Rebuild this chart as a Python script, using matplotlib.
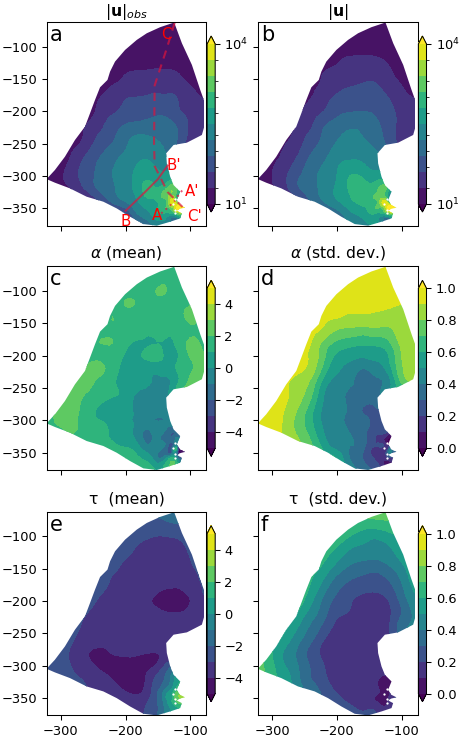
import numpy as np
import matplotlib
matplotlib.use('Agg')
import matplotlib.pyplot as plt
from matplotlib.patches import Polygon
from matplotlib.colors import LogNorm
from matplotlib.tri import Triangulation, UniformTriRefiner
from matplotlib.ticker import LogLocator, NullFormatter

W, H = 460, 736
DPI = 94

grid_x = [-320, -300, -280, -260, -240, -220, -200, -180, -160, -140, -120, -100, -80]
grid_y = [-60, -80, -100, -120, -140, -160, -180, -200, -220, -240, -260, -280, -300, -320, -340, -360, -380]

outline_x = [-124.8, -146.5, -167.2, -182.7, -200.8, -216.3, -224, -228, -239.5, -247.3, -255, -262.8,
             -278.3, -293.8, -309.3, -322.2, -309.3, -286, -260.2, -234.4, -213.7, -193, -172.4, -151.7,
             -131, -115.5, -113, -120.7, -116, -108, -116, -120.7, -115.5, -125.8, -131, -136.2, -137.2,
             -125.8, -105.2, -82, -78.3, -75.2, -84.5, -97.4, -112.9]
outline_y = [-62.8, -70, -79.4, -89.7, -105.2, -123.2, -138.7, -151.6, -163, -182.6, -203.2, -223.8,
             -244.5, -270.3, -290.9, -304.9, -310.5, -319.3, -332.2, -339.9, -350.3, -363.2, -374.5, -377,
             -370.9, -365.7, -358, -353.9, -351, -349, -345, -337.4, -324.5, -314.1, -301.2, -280.6, -265.1,
             -252.2, -248.6, -236.7, -223.8, -192.9, -167.1, -128.4, -94.8]

detail_x = [-137, -131, -127, -124, -128, -135, -145, -118, -114, -110, -122, -127]
detail_y = [-328, -332, -335, -341, -349, -349, -350, -347, -349, -349, -345, -355]

gap_x = [-123, -127, -123, -123]
gap_y = [-336, -343.5, -352, -358]

# log10 of observed speed
log_obs = [
 [1.05, 1.05, 1.05, 1.05, 1.05, 1.05, 1.05, 1.05, 1.05, 1.05, 1.05, 1.05, 1.05],
 [1.05, 1.05, 1.05, 1.05, 1.05, 1.05, 1.05, 1.05, 1.05, 1.05, 1.05, 1.05, 1.05],
 [1.05, 1.05, 1.05, 1.05, 1.05, 1.05, 1.08, 1.08, 1.08, 1.08, 1.08, 1.05, 1.05],
 [1.05, 1.05, 1.05, 1.05, 1.08, 1.08, 1.1, 1.15, 1.15, 1.15, 1.1, 1.08, 1.05],
 [1.05, 1.05, 1.05, 1.05, 1.1, 1.15, 1.28, 1.32, 1.35, 1.35, 1.3, 1.15, 1.1],
 [1.05, 1.05, 1.05, 1.05, 1.15, 1.3, 1.4, 1.45, 1.5, 1.5, 1.45, 1.3, 1.2],
 [1.05, 1.05, 1.05, 1.1, 1.3, 1.45, 1.58, 1.62, 1.65, 1.65, 1.6, 1.4, 1.3],
 [1.05, 1.05, 1.05, 1.1, 1.4, 1.55, 1.7, 1.78, 1.8, 1.82, 1.65, 1.5, 1.35],
 [1.05, 1.05, 1.05, 1.3, 1.5, 1.75, 1.9, 1.95, 2.0, 2.0, 1.85, 1.55, 1.45],
 [1.05, 1.05, 1.1, 1.4, 1.65, 1.85, 2.1, 2.25, 2.2, 2.1, 1.9, 1.5, 1.4],
 [1.05, 1.05, 1.3, 1.55, 1.8, 2.0, 2.2, 2.4, 2.4, 2.2, 1.9, 1.5, 1.4],
 [1.05, 1.15, 1.45, 1.7, 1.95, 2.15, 2.35, 2.5, 2.5, 2.3, 2.0, 1.8, 1.5],
 [1.05, 1.25, 1.5, 1.75, 2.0, 2.2, 2.4, 2.6, 2.7, 2.6, 2.4, 2.0, 1.8],
 [1.05, 1.2, 1.35, 1.65, 1.95, 2.15, 2.4, 2.65, 2.9, 3.0, 3.1, 2.6, 2.2],
 [1.05, 1.1, 1.2, 1.3, 1.6, 1.95, 2.2, 2.5, 2.7, 2.9, 3.2, 3.0, 2.4],
 [1.05, 1.05, 1.1, 1.2, 1.3, 1.4, 1.6, 2.2, 2.5, 2.7, 2.8, 2.6, 2.2],
 [1.05, 1.05, 1.05, 1.1, 1.2, 1.3, 1.4, 1.6, 2.1, 2.4, 2.5, 2.4, 2.0],
]
log_obs_detail = [3.3, 3.45, 3.7, 3.8, 3.35, 3.1, 2.95, 4.1, 4.2, 3.9, 3.8, 3.1]

# log10 of modelled speed
log_mod = [
 [1.05, 1.05, 1.05, 1.05, 1.05, 1.05, 1.05, 1.05, 1.05, 1.05, 1.05, 1.05, 1.05],
 [1.05, 1.05, 1.05, 1.05, 1.05, 1.05, 1.08, 1.08, 1.08, 1.08, 1.08, 1.08, 1.05],
 [1.05, 1.05, 1.05, 1.05, 1.05, 1.08, 1.15, 1.2, 1.2, 1.2, 1.15, 1.08, 1.05],
 [1.05, 1.05, 1.05, 1.05, 1.08, 1.1, 1.25, 1.33, 1.35, 1.33, 1.25, 1.1, 1.08],
 [1.05, 1.05, 1.05, 1.05, 1.08, 1.3, 1.38, 1.45, 1.5, 1.48, 1.35, 1.2, 1.15],
 [1.05, 1.05, 1.05, 1.08, 1.2, 1.38, 1.5, 1.58, 1.62, 1.62, 1.45, 1.3, 1.2],
 [1.05, 1.05, 1.08, 1.15, 1.3, 1.5, 1.65, 1.72, 1.75, 1.72, 1.6, 1.4, 1.3],
 [1.05, 1.05, 1.1, 1.25, 1.45, 1.6, 1.8, 1.88, 1.9, 1.85, 1.7, 1.5, 1.4],
 [1.05, 1.05, 1.1, 1.35, 1.55, 1.85, 2.0, 2.1, 2.1, 1.95, 1.75, 1.5, 1.4],
 [1.05, 1.05, 1.2, 1.45, 1.7, 1.95, 2.15, 2.3, 2.2, 2.05, 1.75, 1.5, 1.4],
 [1.05, 1.1, 1.35, 1.55, 1.85, 2.05, 2.3, 2.4, 2.35, 2.2, 1.9, 1.6, 1.4],
 [1.05, 1.25, 1.45, 1.7, 2.0, 2.2, 2.45, 2.55, 2.5, 2.35, 2.1, 1.8, 1.5],
 [1.1, 1.3, 1.55, 1.85, 2.1, 2.3, 2.5, 2.8, 2.75, 2.65, 2.4, 2.0, 1.8],
 [1.1, 1.25, 1.5, 1.85, 2.1, 2.3, 2.55, 2.85, 3.0, 3.0, 2.9, 2.6, 2.2],
 [1.05, 1.1, 1.3, 1.5, 1.9, 2.2, 2.45, 2.7, 2.9, 3.0, 3.1, 3.0, 2.4],
 [1.05, 1.05, 1.2, 1.4, 1.6, 1.8, 2.0, 2.4, 2.6, 2.75, 2.8, 2.6, 2.2],
 [1.05, 1.05, 1.1, 1.3, 1.5, 1.7, 1.8, 2.1, 2.3, 2.5, 2.5, 2.4, 2.0],
]
log_mod_detail = [3.15, 3.3, 3.45, 3.8, 3.3, 3.1, 2.95, 4.1, 4.2, 3.9, 3.9, 3.1]

alpha_mean = [
 [1.5, 1.5, 1.5, 1.5, 1.5, 1.5, 1.5, 1.5, 1.5, 1.5, 1.5, 1.5, 1.5],
 [1.5, 1.5, 1.5, 1.5, 1.5, 1.5, 1.5, 1.6, 1.6, 1.8, 1.6, 1.6, 1.5],
 [1.5, 1.5, 1.5, 1.5, 1.5, 1.5, 1.6, 1.7, 1.9, 2.05, 1.7, 1.6, 1.5],
 [1.5, 1.5, 1.5, 1.5, 1.5, 1.5, 2.05, 1.9, 1.7, 1.7, 1.6, 1.9, 1.6],
 [1.5, 1.5, 1.5, 1.5, 1.6, 2.0, 1.6, 1.5, 1.5, 1.5, 1.5, 2.3, 1.5],
 [1.5, 1.5, 1.5, 1.5, 1.5, 1.8, 1.6, 1.4, 1.4, 1.4, 1.0, 1.8, 1.5],
 [1.5, 1.5, 1.5, 1.5, 2.0, 2.0, 1.3, 0.9, 0.9, 0.9, 1.2, 2.2, 1.8],
 [1.5, 1.5, 1.5, 1.7, 1.7, 1.5, 0.9, 0.8, 1.4, 0.9, 0.9, 2.1, 2.1],
 [1.5, 1.5, 1.6, 2.1, 2.3, 1.4, 0.7, 0.5, 0.3, 0.5, 1.1, 1.8, 2.6],
 [1.5, 1.6, 2.0, 2.4, 1.7, 1.1, 0.6, 0.4, 0.0, -0.3, 0.8, 2.2, 2.4],
 [1.6, 1.9, 2.3, 1.9, 1.4, 1.1, 0.7, -0.2, -0.5, -0.5, 1.5, 2.0, 2.0],
 [1.6, 2.2, 2.3, 1.5, 0.9, 0.6, 0.4, -0.4, -0.5, -0.4, 1.0, 1.5, 1.5],
 [1.7, 2.3, 2.2, 1.4, 1.0, 0.7, 0.1, -0.2, -0.9, -1.0, 0.5, 1.0, 1.0],
 [1.7, 1.7, 2.0, 1.3, 1.1, 0.9, 0.4, -0.6, -1.0, -1.1, -1.6, 0.0, 0.5],
 [1.7, 1.6, 1.5, 1.4, 1.3, 1.2, 0.9, 0.1, -0.7, -1.0, -1.5, 0.0, 0.0],
 [1.7, 1.6, 1.6, 1.6, 1.7, 2.0, 2.0, 1.2, 0.2, -0.3, -0.2, 0.0, 0.0],
 [1.7, 1.7, 1.7, 1.7, 1.8, 2.0, 2.0, 2.0, 1.5, 1.0, 0.5, 0.0, 0.0],
]
alpha_mean_detail = [-1.6, -1.8, -2.0, -0.5, -1.4, -2.2, -1.3, -4.5, -4.6, -4.5, 1.5, 0.4]

alpha_std = [
 [0.95, 0.95, 0.95, 0.95, 0.95, 0.95, 0.95, 0.95, 0.95, 0.95, 0.95, 0.95, 0.95],
 [0.95, 0.95, 0.95, 0.95, 0.95, 0.95, 0.95, 0.95, 0.95, 0.95, 0.95, 0.95, 0.95],
 [0.95, 0.95, 0.95, 0.95, 0.95, 0.95, 0.95, 0.96, 0.98, 0.95, 0.95, 0.92, 0.9],
 [0.95, 0.95, 0.95, 0.95, 0.95, 0.95, 0.95, 0.95, 0.95, 0.94, 0.92, 0.9, 0.88],
 [0.95, 0.95, 0.95, 0.95, 0.95, 0.92, 0.91, 0.88, 0.88, 0.87, 0.86, 0.85, 0.86],
 [0.95, 0.95, 0.95, 0.95, 0.93, 0.88, 0.8, 0.78, 0.76, 0.78, 0.78, 0.85, 0.88],
 [0.95, 0.95, 0.95, 0.94, 0.9, 0.77, 0.68, 0.64, 0.62, 0.63, 0.68, 0.83, 0.87],
 [0.95, 0.95, 0.95, 0.93, 0.88, 0.72, 0.58, 0.54, 0.52, 0.54, 0.6, 0.8, 0.86],
 [0.95, 0.95, 0.95, 0.92, 0.86, 0.66, 0.52, 0.46, 0.4, 0.44, 0.55, 0.78, 0.85],
 [0.95, 0.95, 0.92, 0.87, 0.78, 0.56, 0.47, 0.42, 0.37, 0.38, 0.46, 0.72, 0.8],
 [0.95, 0.95, 0.92, 0.84, 0.72, 0.5, 0.44, 0.38, 0.37, 0.35, 0.5, 0.6, 0.7],
 [0.95, 0.95, 0.9, 0.8, 0.65, 0.48, 0.44, 0.38, 0.3, 0.3, 0.4, 0.5, 0.6],
 [0.95, 0.94, 0.88, 0.76, 0.62, 0.47, 0.42, 0.38, 0.33, 0.27, 0.2, 0.3, 0.4],
 [0.95, 0.92, 0.88, 0.78, 0.66, 0.5, 0.43, 0.4, 0.33, 0.22, 0.15, 0.2, 0.3],
 [0.93, 0.92, 0.88, 0.82, 0.72, 0.56, 0.45, 0.4, 0.33, 0.2, 0.15, 0.2, 0.3],
 [0.93, 0.9, 0.85, 0.8, 0.75, 0.65, 0.6, 0.4, 0.3, 0.18, 0.15, 0.2, 0.3],
 [0.9, 0.9, 0.85, 0.8, 0.75, 0.65, 0.55, 0.5, 0.35, 0.3, 0.2, 0.2, 0.3],
]
alpha_std_detail = [0.17, 0.15, 0.14, 0.14, 0.14, 0.14, 0.17, 0.45, 0.3, 0.3, 0.14, 0.14]

tau_mean = [
 [-2.0, -2.0, -2.0, -2.0, -2.0, -2.0, -2.0, -2.0, -1.8, -1.6, -1.5, -1.7, -2.0],
 [-2.0, -2.0, -2.0, -2.0, -2.0, -2.1, -2.2, -2.3, -2.3, -2.2, -2.0, -2.2, -2.2],
 [-2.0, -2.0, -2.0, -2.1, -2.2, -2.2, -2.4, -2.7, -2.95, -3.0, -2.9, -2.6, -2.3],
 [-2.0, -2.0, -2.0, -2.1, -2.2, -2.4, -2.7, -3.15, -3.3, -3.3, -3.2, -2.9, -2.5],
 [-2.0, -2.0, -2.0, -2.1, -2.3, -2.6, -3.1, -3.3, -3.4, -3.5, -3.5, -3.05, -2.6],
 [-2.0, -2.0, -2.0, -2.2, -2.5, -3.0, -3.3, -3.4, -3.6, -3.7, -3.7, -3.3, -2.8],
 [-2.0, -2.0, -2.2, -2.5, -2.8, -3.2, -3.4, -3.5, -3.7, -3.95, -4.0, -3.6, -2.95],
 [-2.0, -2.0, -2.3, -2.7, -3.1, -3.4, -3.5, -3.6, -4.0, -4.3, -4.3, -4.0, -3.05],
 [-2.0, -2.2, -2.5, -3.0, -3.3, -3.5, -3.6, -3.7, -3.7, -3.9, -3.95, -3.7, -3.1],
 [-2.0, -2.4, -2.8, -3.2, -3.5, -3.6, -3.7, -3.7, -3.7, -3.7, -3.6, -3.4, -3.0],
 [-2.2, -2.7, -3.0, -3.45, -3.7, -3.8, -3.8, -3.8, -3.8, -3.7, -3.5, -3.2, -3.0],
 [-2.5, -2.8, -3.2, -3.9, -4.2, -3.95, -3.9, -3.95, -4.0, -3.8, -3.3, -3.0, -2.8],
 [-2.4, -2.7, -3.1, -3.6, -4.2, -4.3, -4.3, -4.3, -4.2, -3.0, -1.5, -1.5, -1.5],
 [-2.4, -2.6, -2.9, -3.1, -3.5, -4.05, -4.4, -4.5, -3.3, -2.0, 0.5, 0.5, 0.0],
 [-2.4, -2.6, -2.8, -3.0, -3.2, -3.6, -4.0, -4.2, -3.0, -0.8, 2.0, 2.0, 1.5],
 [-2.4, -2.6, -2.8, -3.0, -3.2, -3.2, -3.2, -3.4, -2.6, -0.9, 1.5, 1.5, 1.0],
 [-2.4, -2.6, -2.8, -3.0, -3.0, -3.0, -3.0, -3.2, -2.5, -1.0, 1.0, 1.0, 1.0],
]
tau_mean_detail = [-1.6, -0.6, 0.2, 1.5, 1.0, 0.2, -1.3, 3.0, 3.3, 3.4, 2.5, 1.2]

tau_std = [
 [0.78, 0.78, 0.78, 0.78, 0.78, 0.78, 0.78, 0.78, 0.78, 0.76, 0.76, 0.78, 0.78],
 [0.78, 0.78, 0.78, 0.78, 0.78, 0.78, 0.74, 0.7, 0.66, 0.66, 0.68, 0.72, 0.76],
 [0.78, 0.78, 0.78, 0.78, 0.75, 0.72, 0.68, 0.6, 0.55, 0.52, 0.56, 0.62, 0.7],
 [0.78, 0.78, 0.78, 0.75, 0.72, 0.66, 0.58, 0.5, 0.47, 0.45, 0.48, 0.56, 0.66],
 [0.78, 0.78, 0.78, 0.72, 0.68, 0.6, 0.5, 0.42, 0.39, 0.38, 0.42, 0.5, 0.6],
 [0.78, 0.78, 0.75, 0.7, 0.62, 0.52, 0.4, 0.33, 0.3, 0.28, 0.33, 0.43, 0.58],
 [0.78, 0.75, 0.72, 0.68, 0.58, 0.44, 0.32, 0.26, 0.23, 0.22, 0.26, 0.38, 0.52],
 [0.78, 0.75, 0.72, 0.65, 0.52, 0.37, 0.27, 0.21, 0.17, 0.16, 0.2, 0.33, 0.47],
 [0.78, 0.75, 0.7, 0.58, 0.45, 0.33, 0.22, 0.19, 0.15, 0.14, 0.18, 0.3, 0.42],
 [0.78, 0.72, 0.62, 0.5, 0.38, 0.27, 0.17, 0.14, 0.13, 0.13, 0.19, 0.35, 0.42],
 [0.75, 0.66, 0.55, 0.43, 0.32, 0.2, 0.14, 0.13, 0.13, 0.14, 0.2, 0.3, 0.4],
 [0.72, 0.6, 0.48, 0.38, 0.26, 0.17, 0.13, 0.12, 0.13, 0.15, 0.2, 0.25, 0.3],
 [0.75, 0.62, 0.5, 0.4, 0.29, 0.2, 0.14, 0.12, 0.13, 0.14, 0.17, 0.2, 0.2],
 [0.75, 0.62, 0.55, 0.42, 0.3, 0.22, 0.15, 0.12, 0.13, 0.13, 0.08, 0.15, 0.2],
 [0.75, 0.62, 0.55, 0.45, 0.36, 0.27, 0.19, 0.14, 0.13, 0.13, 0.06, 0.15, 0.2],
 [0.75, 0.62, 0.55, 0.45, 0.36, 0.3, 0.25, 0.2, 0.15, 0.14, 0.13, 0.15, 0.2],
 [0.75, 0.62, 0.55, 0.45, 0.36, 0.3, 0.3, 0.28, 0.25, 0.22, 0.2, 0.2, 0.2],
]
tau_std_detail = [0.1, 0.06, 0.05, 0.05, 0.05, 0.07, 0.11, 0.12, 0.18, 0.2, 0.05, 0.06]

section_aa_x = [-145, -138, -125, -117, -112]
section_aa_y = [-358, -352, -340, -328, -322]
section_bb_x = [-200, -170, -150, -135]
section_bb_y = [-354, -325, -305, -284]
section_cc_x = [-124, -137, -155, -156, -155, -135, -112]
section_cc_y = [-63, -105, -160, -250, -285, -325, -348]

log_levels = np.logspace(1, 4, 11)
mean_levels = np.linspace(-5, 5, 11)
std_levels = np.linspace(0, 1, 11)

plt.rcParams['font.family'] = 'DejaVu Sans'

fig = plt.figure(figsize=(W / DPI, H / DPI), dpi=DPI)

def box(x0, y0, x1, y1):
    return [x0 / W, 1 - y1 / H, (x1 - x0) / W, (y1 - y0) / H]

gx, gy = np.meshgrid(grid_x, grid_y)
px = np.r_[gx.ravel(), detail_x]
py = np.r_[gy.ravel(), detail_y]
tri = Triangulation(px, py)
refiner = UniformTriRefiner(tri)
outline = np.column_stack([outline_x, outline_y])

def panel(col, row, grid, detail, levels, title, letter, log=False):
    x0 = [46.7, 258.0][col]
    y0 = [22.0, 266.3, 511.7][row]
    ax = fig.add_axes(box(x0, y0, x0 + 159.7, y0 + 203.7))
    z = np.r_[np.array(grid, float).ravel(), detail]
    rt, rz = refiner.refine_field(z, subdiv=2)
    if log:
        cs = ax.tricontourf(rt, 10.0 ** rz, levels=levels, norm=LogNorm(10, 1e4), cmap='viridis', extend='both')
    else:
        cs = ax.tricontourf(rt, rz, levels=levels, cmap='viridis', extend='both')
    clip = Polygon(outline, closed=True, transform=ax.transData, fc='none', ec='none')
    ax.add_patch(clip)
    cs.set_clip_path(clip)
    ax.scatter(gap_x, gap_y, s=3, c='white', linewidths=0, zorder=3)
    ax.set_xlim(-322, -75)
    ax.set_ylim(-377, -62)
    ax.set_xticks([-300, -200, -100])
    ax.set_yticks([-100, -150, -200, -250, -300, -350])
    ax.tick_params(labelbottom=row == 2, labelleft=col == 0)
    ax.set_title(title, fontsize=12, pad=6.5 if row else 4.5)
    ax.text(0.018, 0.985, letter, transform=ax.transAxes, fontsize=16, va='top', ha='left')
    cax = fig.add_axes(box(x0 + 160.4, y0 + 14.0, x0 + 168.5, y0 + 190.0))
    cb = fig.colorbar(cs, cax=cax, extend='both', extendfrac=0.05)
    if log:
        cb.set_ticks([10, 1e4])
        cb.ax.yaxis.set_minor_locator(LogLocator(base=10, subs=(1, 2, 5)))
        cb.ax.yaxis.set_minor_formatter(NullFormatter())
    elif levels[0] == 0:
        cb.set_ticks([0, .2, .4, .6, .8, 1.0])
    else:
        cb.set_ticks([-4, -2, 0, 2, 4])
    return ax

ax_a = panel(0, 0, log_obs, log_obs_detail, log_levels, r'$|\mathbf{u}|_{obs}$', 'a', log=True)
panel(1, 0, log_mod, log_mod_detail, log_levels, r'$|\mathbf{u}|$', 'b', log=True)
panel(0, 1, alpha_mean, alpha_mean_detail, mean_levels, r'$\alpha$ (mean)', 'c')
panel(1, 1, alpha_std, alpha_std_detail, std_levels, r'$\alpha$ (std. dev.)', 'd')
panel(0, 2, tau_mean, tau_mean_detail, mean_levels, 'τ  (mean)', 'e')
panel(1, 2, tau_std, tau_std_detail, std_levels, 'τ  (std. dev.)', 'f')

ax_a.plot(section_aa_x, section_aa_y, color='crimson', alpha=0.7, lw=1.5, ls=(0, (1, 2)))
ax_a.plot(section_bb_x, section_bb_y, color='crimson', alpha=0.7, lw=1.5)
ax_a.plot(section_cc_x, section_cc_y, color='crimson', alpha=0.7, lw=1.6, ls=(0, (4, 3)))
for s, x, y in [('A', -151, -361), ('A\'', -97.5, -324), ('B', -200, -370), ('B\'', -125, -284),
                ('C', -137, -81), ('C\'', -94, -363)]:
    ax_a.text(x, y, s, color='red', fontsize=11.5, ha='center', va='center')

fig.savefig('out.png', dpi=DPI)
